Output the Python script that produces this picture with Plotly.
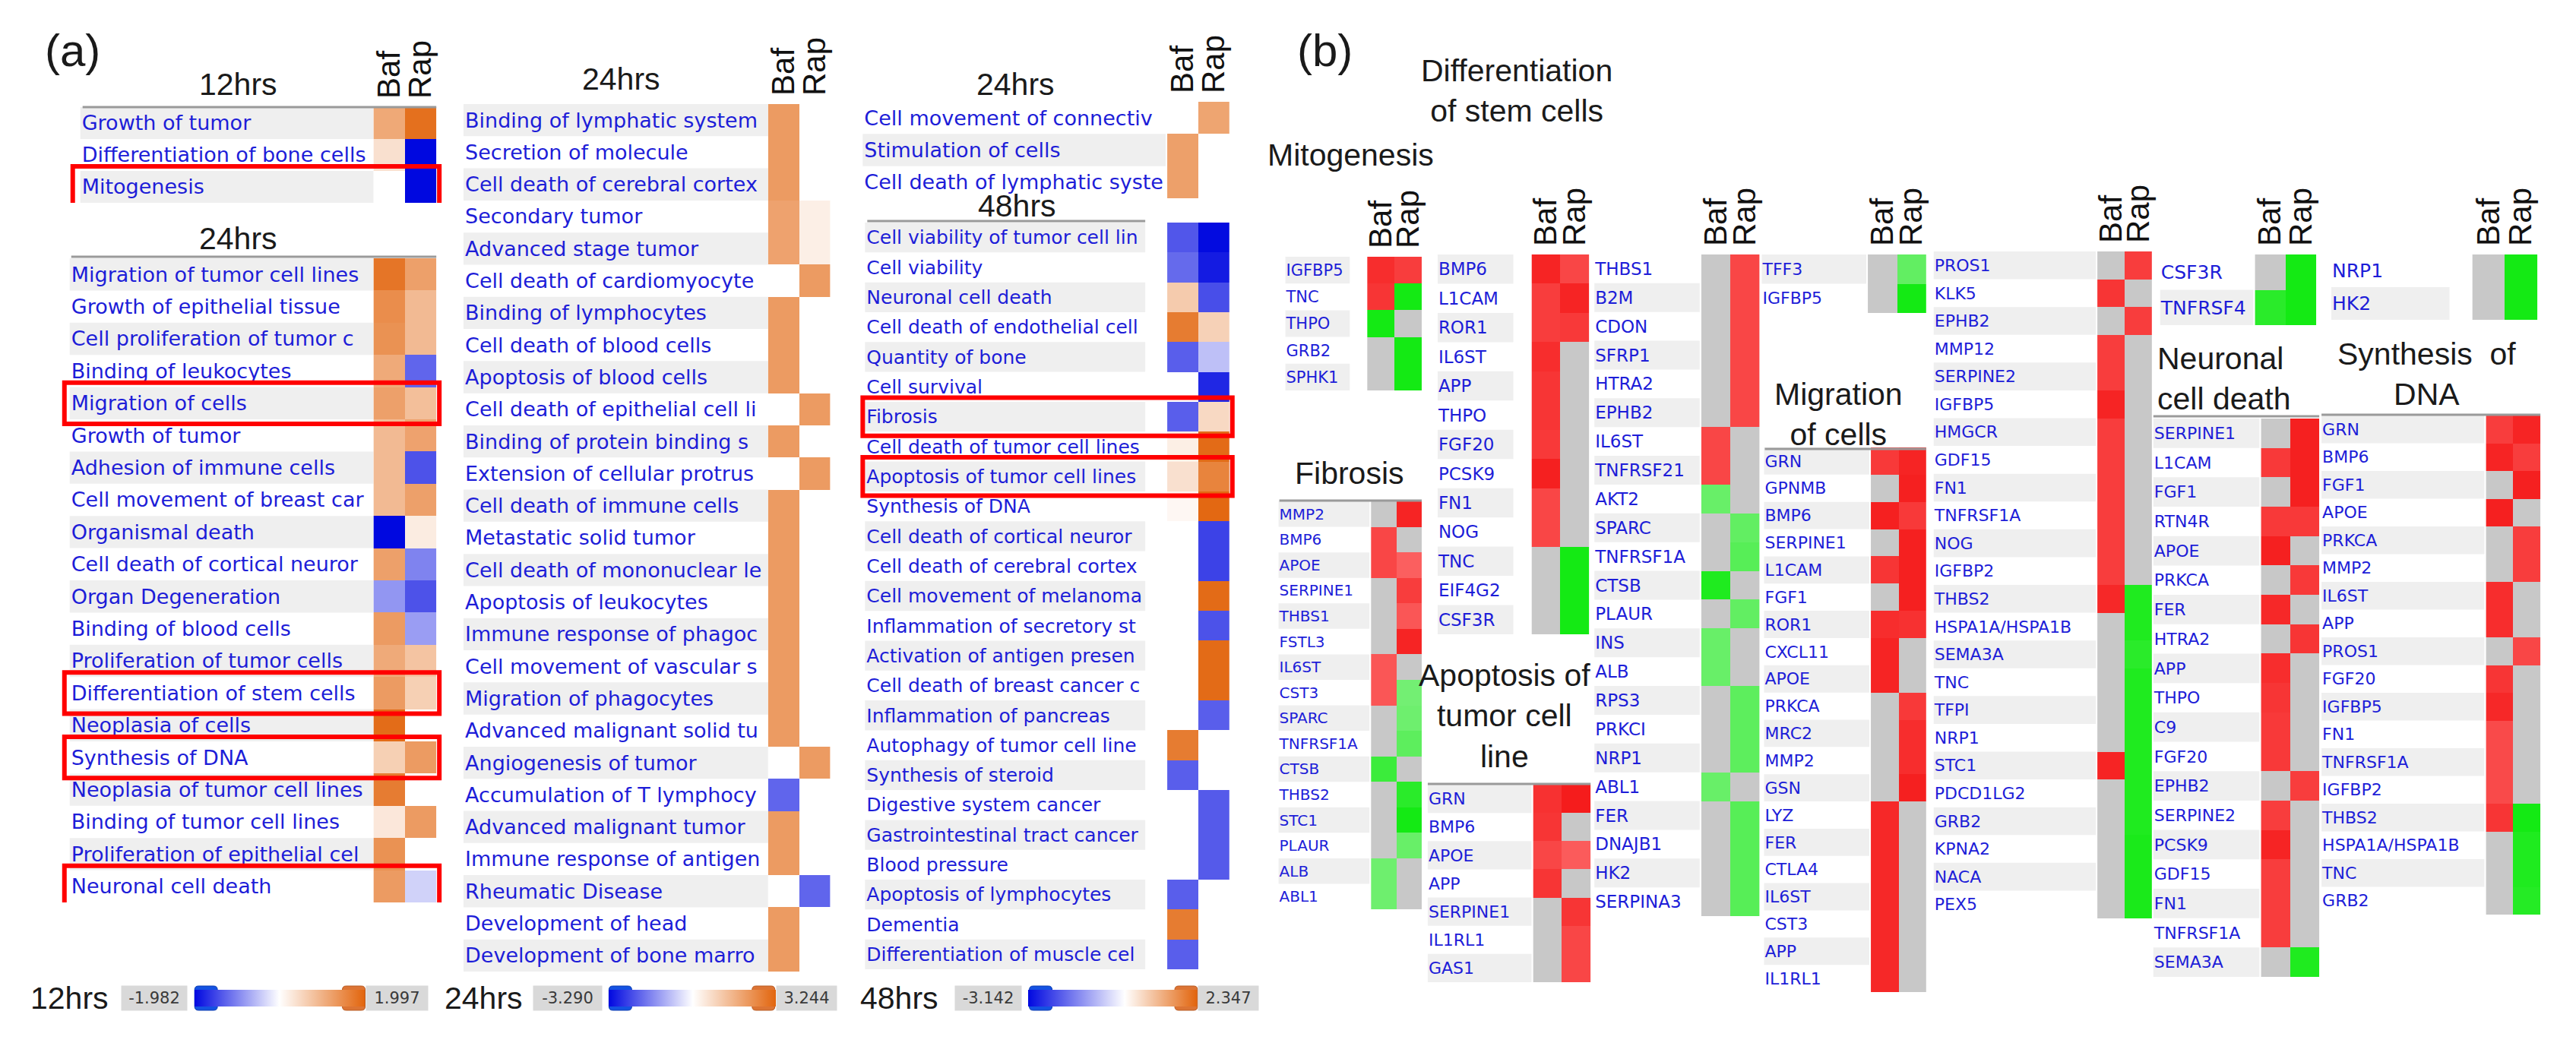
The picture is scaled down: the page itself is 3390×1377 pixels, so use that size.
import plotly.graph_objects as go

# ---------------- DATA ----------------
COLS = ["Baf", "Rap"]

# (a) IPA downstream functions, activation z-scores
RANGE_12 = [-1.982, 1.997]
RANGE_24 = [-3.290, 3.244]
RANGE_48 = [-3.142, 2.347]

T12_TERMS = ["Growth of tumor", "Differentiation of bone cells", "Mitogenesis"]
T12_BAF = [1.12, 0.40, None]
T12_RAP = [1.86, -1.98, -1.98]

T24A_TERMS = ["Migration of tumor cell lines", "Growth of epithelial tissue", "Cell proliferation of tumor c",
              "Binding of leukocytes", "Migration of cells", "Growth of tumor", "Adhesion of immune cells",
              "Cell movement of breast car", "Organismal death", "Cell death of cortical neuror",
              "Organ Degeneration", "Binding of blood cells", "Proliferation of tumor cells",
              "Differentiation of stem cells", "Neoplasia of cells", "Synthesis of DNA",
              "Neoplasia of tumor cell lines", "Binding of tumor cell lines", "Proliferation of epithelial cel",
              "Neuronal cell death"]
T24A_BAF = [2.9, 2.4, 2.3, 1.8, 2.0, 1.45, 1.45, 1.45, -3.29, 2.0, -1.4, 2.1, 1.8, 2.1, 3.1, 1.0, 2.75, 0.5, 2.3, 2.1]
T24A_RAP = [2.0, 1.45, 1.45, -2.05, 1.35, 1.95, -2.3, 2.0, 0.4, -1.65, -2.3, -1.3, 1.25, 1.0, None, 2.1, None, 2.1, None, -0.6]

T24B_TERMS = ["Binding of lymphatic system", "Secretion of molecule", "Cell death of cerebral cortex",
              "Secondary tumor", "Advanced stage tumor", "Cell death of cardiomyocyte", "Binding of lymphocytes",
              "Cell death of blood cells", "Apoptosis of blood cells", "Cell death of epithelial cell li",
              "Binding of protein binding s", "Extension of cellular protrus", "Cell death of immune cells",
              "Metastatic solid tumor", "Cell death of mononuclear le", "Apoptosis of leukocytes",
              "Immune response of phagoc", "Cell movement of vascular s", "Migration of phagocytes",
              "Advanced malignant solid tu", "Angiogenesis of tumor", "Accumulation of T lymphocy",
              "Advanced malignant tumor", "Immune response of antigen", "Rheumatic Disease",
              "Development of head", "Development of bone marro"]
T24B_BAF = [2.1, 2.1, 2.1, 1.95, 1.95, None, 2.1, 2.1, 2.1, None, 2.1, None, 2.1, 2.1, 2.1, 2.1, 2.1, 2.1, 2.1, 2.1,
            None, -2.05, 2.1, 2.1, None, 2.1, 2.1]
T24B_RAP = [None, None, None, 0.33, 0.33, 2.1, None, None, None, 2.1, None, 2.1, None, None, None, None, None, None,
            None, None, 2.1, None, None, None, -2.05, None, None]

T24C_TERMS = ["Cell movement of connectiv", "Stimulation of cells", "Cell death of lymphatic syste"]
T24C_BAF = [None, 2.0, 2.0]
T24C_RAP = [1.9, None, None]

T48_TERMS = ["Cell viability of tumor cell lin", "Cell viability", "Neuronal cell death",
             "Cell death of endothelial cell", "Quantity of bone", "Cell survival", "Fibrosis",
             "Cell death of tumor cell lines", "Apoptosis of tumor cell lines", "Synthesis of DNA",
             "Cell death of cortical neuror", "Cell death of cerebral cortex", "Cell movement of melanoma",
             "Inflammation of secretory st", "Activation of antigen presen", "Cell death of breast cancer c",
             "Inflammation of pancreas", "Autophagy of tumor cell line", "Synthesis of steroid",
             "Digestive system cancer", "Gastrointestinal tract cancer", "Blood pressure",
             "Apoptosis of lymphocytes", "Dementia", "Differentiation of muscle cel"]
T48_BAF = [-2.15, -1.9, 0.8, 2.0, -2.05, None, -2.05, 0.25, 0.47, 0.12, None, None, None, None, None, None, None,
           2.0, -2.05, None, None, None, -2.05, 2.0, -2.05]
T48_RAP = [-3.1, -2.9, -2.25, 0.7, -0.8, -2.75, 0.58, 2.25, 1.88, 2.3, -2.4, -2.4, 2.25, -2.2, 2.25, 2.25, -2.05,
           None, None, -2.1, -2.1, -2.1, None, None, None]

# (b) gene-level fold changes (0 = not changed)
MITO_GENES = ["IGFBP5", "TNC", "THPO", "GRB2", "SPHK1"]
MITO_BAF = [2.6, 2.4, -3.0, 0, 0]
MITO_RAP = [2.2, -3.0, 0, -3.0, -3.0]

FIB_GENES = ["MMP2", "BMP6", "APOE", "SERPINE1", "THBS1", "FSTL3", "IL6ST", "CST3", "SPARC", "TNFRSF1A",
             "CTSB", "THBS2", "STC1", "PLAUR", "ALB", "ABL1"]
FIB_BAF = [0, 2.0, 2.0, 0, 0, 0, 1.6, 1.6, 0, 0, -2.3, 0, 0, 0, -1.4, -1.4]
FIB_RAP = [2.8, 0, 1.4, 2.2, 1.6, 2.8, 0, -1.3, -1.4, -1.7, 0, -2.6, -3.0, -1.5, 0, 0]

DIFF1_GENES = ["BMP6", "L1CAM", "ROR1", "IL6ST", "APP", "THPO", "FGF20", "PCSK9", "FN1", "NOG", "TNC",
               "EIF4G2", "CSF3R"]
DIFF1_BAF = [2.8, 2.2, 2.2, 2.6, 2.4, 2.4, 2.3, 2.9, 2.0, 2.0, 0, 0, 0]
DIFF1_RAP = [2.0, 2.8, 2.3, 0, 0, 0, 0, 0, 0, 0, -3.0, -3.0, -3.0]

DIFF2_GENES = ["THBS1", "B2M", "CDON", "SFRP1", "HTRA2", "EPHB2", "IL6ST", "TNFRSF21", "AKT2", "SPARC",
               "TNFRSF1A", "CTSB", "PLAUR", "INS", "ALB", "RPS3", "PRKCI", "NRP1", "ABL1", "FER", "DNAJB1",
               "HK2", "SERPINA3"]
DIFF2_BAF = [0, 0, 0, 0, 0, 0, 2.0, 2.0, -1.5, 0, 0, -2.8, 0, -1.5, -1.5, 0, 0, 0, -1.5, 0, 0, 0, 0]
DIFF2_RAP = [2.0, 2.0, 2.0, 2.0, 2.0, 2.0, 0, 0, 0, -1.6, -1.8, 0, -1.6, 0, 0, -1.7, -1.7, -1.7, 0, -1.8,
             -1.8, -1.8, -1.8]

APOP_GENES = ["GRN", "BMP6", "APOE", "APP", "SERPINE1", "IL1RL1", "GAS1"]
APOP_BAF = [2.5, 2.4, 2.0, 2.4, 0, 0, 0]
APOP_RAP = [3.0, 0, 1.5, 0, 2.4, 2.0, 2.0]

TFF_GENES = ["TFF3", "IGFBP5"]
TFF_BAF = [0, 0]
TFF_RAP = [-1.6, -3.0]

MIG1_GENES = ["GRN", "GPNMB", "BMP6", "SERPINE1", "L1CAM", "FGF1", "ROR1", "CXCL11", "APOE", "PRKCA", "MRC2",
              "MMP2", "GSN", "LYZ", "FER", "CTLA4", "IL6ST", "CST3", "APP", "IL1RL1"]
MIG1_BAF = [2.3, 0, 2.9, 0, 2.4, 0, 2.6, 2.8, 2.8, 0, 0, 0, 0, 2.7, 2.7, 2.7, 2.7, 2.7, 2.7, 2.7]
MIG1_RAP = [2.8, 2.9, 2.3, 2.9, 2.9, 2.9, 2.5, 0, 0, 2.3, 2.6, 2.6, 2.9, 0, 0, 0, 0, 0, 0, 0]

MIG2_GENES = ["PROS1", "KLK5", "EPHB2", "MMP12", "SERPINE2", "IGFBP5", "HMGCR", "GDF15", "FN1", "TNFRSF1A",
              "NOG", "IGFBP2", "THBS2", "HSPA1A/HSPA1B", "SEMA3A", "TNC", "TFPI", "NRP1", "STC1", "PDCD1LG2",
              "GRB2", "KPNA2", "NACA", "PEX5"]
MIG2_BAF = [0, 2.4, 0, 2.2, 2.2, 2.8, 2.2, 2.2, 2.2, 2.2, 2.2, 2.2, 2.7, 0, 0, 0, 0, 0, 2.8, 0, 0, 0, 0, 0]
MIG2_RAP = [2.2, 0, 2.2, 0, 0, 0, 0, 0, 0, 0, 0, 0, -2.8, -2.8, -2.6, -2.8, -2.8, -2.8, -2.8, -2.8, -2.8,
            -2.9, -2.9, -2.9]

CSF_GENES = ["CSF3R", "TNFRSF4"]
CSF_BAF = [0, -2.6]
CSF_RAP = [-3.0, -3.0]

NEUR_GENES = ["SERPINE1", "L1CAM", "FGF1", "RTN4R", "APOE", "PRKCA", "FER", "HTRA2", "APP", "THPO", "C9",
              "FGF20", "EPHB2", "SERPINE2", "PCSK9", "GDF15", "FN1", "TNFRSF1A", "SEMA3A"]
NEUR_BAF = [0, 2.3, 0, 2.3, 2.9, 0, 2.7, 0, 2.6, 2.4, 2.3, 2.3, 0, 2.2, 2.8, 2.2, 2.2, 2.2, 0]
NEUR_RAP = [2.9, 2.9, 2.9, 2.3, 0, 2.3, 0, 2.4, 0, 0, 0, 0, 2.2, 0, 0, 0, 0, 0, -2.8]

NRP_GENES = ["NRP1", "HK2"]
NRP_BAF = [0, 0]
NRP_RAP = [-3.0, -3.0]

SYN_GENES = ["GRN", "BMP6", "FGF1", "APOE", "PRKCA", "MMP2", "IL6ST", "APP", "PROS1", "FGF20", "IGFBP5", "FN1",
             "TNFRSF1A", "IGFBP2", "THBS2", "HSPA1A/HSPA1B", "TNC", "GRB2"]
SYN_BAF = [2.2, 2.8, 0, 2.9, 0, 0, 2.6, 2.6, 0, 2.4, 2.7, 1.9, 1.9, 1.9, 2.4, 0, 0, 0]
SYN_RAP = [2.8, 2.2, 2.9, 0, 2.2, 2.2, 0, 0, 2.0, 0, 0, 0, 0, 0, -3.0, -2.8, -2.8, -2.7]

HIGHLIGHT_12 = ["Mitogenesis"]
HIGHLIGHT_24 = ["Migration of cells", "Differentiation of stem cells", "Synthesis of DNA", "Neuronal cell death"]
HIGHLIGHT_48 = ["Fibrosis", "Apoptosis of tumor cell lines"]

# ---------------- LAYOUT / STYLE ----------------
W, H = 3390, 1377
BLUE_TXT = "#1d1dd8"
STRIPE = "#efefef"
TITLE_FONT = "Liberation Sans, Arial, sans-serif"
LABEL_FONT = "DejaVu Sans, Verdana, sans-serif"


def px(x):
    return x / W


def py(y):
    return 1 - y / H


def a_scale(rng):
    lo, hi = rng
    mid = -lo / (hi - lo)
    return [[0, "#0008e0"], [mid, "#ffffff"], [1, "#e2650d"]]


B_SCALE = [[0, "#14ea14"], [0.44, "#a8f2a8"], [0.44, "#c8c8c8"], [0.56, "#c8c8c8"],
           [0.56, "#ff8a8a"], [1, "#f51c1c"]]

BLOCKS = [
    # panel (a)
    dict(terms=T12_TERMS, baf=T12_BAF, rap=T12_RAP, kind="a", rng=RANGE_12, cells=(479, 562), rows=(133, 259),
         lx=96, font=27, stripe=(92, 479), parity=0, header=True, cb=(243, 468),
         boxes=HIGHLIGHT_12, boxx=(82, 566)),
    dict(terms=T24A_TERMS, baf=T24A_BAF, rap=T24A_RAP, kind="a", rng=RANGE_24, cells=(479, 562), rows=(332, 1180),
         lx=82, font=27, stripe=(78, 479), parity=0, header=False, boxes=HIGHLIGHT_24, boxx=(71, 566)),
    dict(terms=T24B_TERMS, baf=T24B_BAF, rap=T24B_RAP, kind="a", rng=RANGE_24, cells=(1000, 1082), rows=(129, 1271),
         lx=602, font=27, stripe=(598, 1000), parity=0, header=True, cb=(790, 1011)),
    dict(terms=T24C_TERMS, baf=T24C_BAF, rap=T24C_RAP, kind="a", rng=RANGE_24, cells=(1527, 1609), rows=(126, 253),
         lx=1129, font=27, stripe=(1125, 1525), parity=1, header=True),
    dict(terms=T48_TERMS, baf=T48_BAF, rap=T48_RAP, kind="a", rng=RANGE_48, cells=(1527, 1609), rows=(285, 1268),
         lx=1132, font=25, stripe=(1128, 1498), parity=0, header=False, cb=(1343, 1566),
         boxes=HIGHLIGHT_48, boxx=(1125, 1613)),
    # panel (b)
    dict(terms=MITO_GENES, baf=MITO_BAF, rap=MITO_RAP, kind="b", cells=(1791, 1863), rows=(330, 506),
         lx=1686, font=21, stripe=(1683, 1768), parity=0, header=True),
    dict(terms=DIFF1_GENES, baf=DIFF1_BAF, rap=DIFF1_RAP, kind="b", cells=(2008, 2084), rows=(327, 827),
         lx=1887, font=23, stripe=(1884, 1984), parity=0, header=True),
    dict(terms=DIFF2_GENES, baf=DIFF2_BAF, rap=DIFF2_RAP, kind="b", cells=(2232, 2309), rows=(327, 1198),
         lx=2094, font=23, stripe=(2091, 2230), parity=1, header=True),
    dict(terms=FIB_GENES, baf=FIB_BAF, rap=FIB_RAP, kind="b", cells=(1796, 1863), rows=(652, 1189),
         lx=1677, font=20, stripe=(1674, 1794), parity=0, header=False),
    dict(terms=APOP_GENES, baf=APOP_BAF, rap=APOP_RAP, kind="b", cells=(2010, 2086), rows=(1025, 1285),
         lx=1874, font=22, stripe=(1871, 2008), parity=0, header=False),
    dict(terms=TFF_GENES, baf=TFF_BAF, rap=TFF_RAP, kind="b", cells=(2452, 2529), rows=(327, 404),
         lx=2315, font=22, stripe=(2312, 2450), parity=0, header=True),
    dict(terms=MIG1_GENES, baf=MIG1_BAF, rap=MIG1_RAP, kind="b", cells=(2456, 2529), rows=(581, 1298),
         lx=2318, font=22, stripe=(2315, 2454), parity=0, header=False),
    dict(terms=MIG2_GENES, baf=MIG2_BAF, rap=MIG2_RAP, kind="b", cells=(2755, 2827), rows=(323, 1201),
         lx=2542, font=22, stripe=(2539, 2753), parity=0, header=True),
    dict(terms=CSF_GENES, baf=CSF_BAF, rap=CSF_RAP, kind="b", cells=(2963, 3044), rows=(327, 420),
         lx=2841, font=25, stripe=(2838, 2961), parity=1, header=True),
    dict(terms=NEUR_GENES, baf=NEUR_BAF, rap=NEUR_RAP, kind="b", cells=(2971, 3048), rows=(543, 1278),
         lx=2832, font=22, stripe=(2829, 2969), parity=0, header=False),
    dict(terms=NRP_GENES, baf=NRP_BAF, rap=NRP_RAP, kind="b", cells=(3250, 3336), rows=(327, 413),
         lx=3067, font=25, stripe=(3064, 3220), parity=1, header=True),
    dict(terms=SYN_GENES, baf=SYN_BAF, rap=SYN_RAP, kind="b", cells=(3268, 3340), rows=(539, 1196),
         lx=3054, font=22, stripe=(3051, 3266), parity=0, header=False),
]

fig = go.Figure()
shapes = []
annotations = []
layout_axes = {}

for i, b in enumerate(BLOCKS, start=1):
    sfx = "" if i == 1 else str(i)
    n = len(b["terms"])
    z = [[bv, rv] for bv, rv in zip(b["baf"], b["rap"])]
    if b["kind"] == "a":
        cs, zmin, zmax = a_scale(b["rng"]), b["rng"][0], b["rng"][1]
    else:
        cs, zmin, zmax = B_SCALE, -3, 3
    tr = dict(z=z, x=[0, 1], y=list(range(n)), colorscale=cs, zmin=zmin, zmax=zmax,
              xaxis="x" + sfx, yaxis="y" + sfx, hoverinfo="skip", showscale=False)
    if "cb" in b:
        l, r = b["cb"]
        tr["showscale"] = True
        tr["colorbar"] = dict(orientation="h", x=px(l), xanchor="left", len=(r - l) / W, lenmode="fraction",
                              y=py(1306), yanchor="middle", thickness=22, thicknessmode="pixels",
                              outlinewidth=0, showticklabels=False, ticks="", xpad=0, ypad=0)
    fig.add_trace(go.Heatmap(**tr))

    top, bot = b["rows"]
    cl, cr = b["cells"]
    layout_axes["xaxis" + sfx] = dict(
        domain=[px(cl), px(cr)], range=[-0.5, 1.5], anchor="y" + sfx, side="top",
        tickvals=[0, 1], ticktext=COLS, tickangle=-90, showticklabels=b["header"], ticks="",
        ticklabelstandoff=10, tickfont=dict(family=TITLE_FONT, size=42, color="#111"),
        showgrid=False, zeroline=False, showline=False, fixedrange=True)
    layout_axes["yaxis" + sfx] = dict(
        domain=[py(bot), py(top)], range=[n - 0.5, -0.5], anchor="free", position=px(b["lx"] - 3),
        side="right", tickvals=list(range(n)), ticktext=b["terms"], ticks="",
        tickfont=dict(family=LABEL_FONT, size=b["font"], color=BLUE_TXT),
        showgrid=False, zeroline=False, showline=False, fixedrange=True)

    sl, sr = b["stripe"]
    for j in range(n):
        if j % 2 == b["parity"]:
            shapes.append(dict(type="rect", xref="paper", yref="y" + sfx, x0=px(sl), x1=px(sr),
                               y0=j - 0.5, y1=j + 0.5, fillcolor=STRIPE, line=dict(width=0), layer="below"))
    for term in b.get("boxes", []):
        j = b["terms"].index(term)
        bl, br = b["boxx"]
        shapes.append(dict(type="rect", xref="paper", yref="y" + sfx, x0=px(bl), x1=px(br),
                           y0=j - 0.64, y1=j + 0.64, line=dict(color="#ff0000", width=6),
                           fillcolor="rgba(0,0,0,0)", layer="above"))

# gray header rules
for (x0, x1, y) in [(95, 562, 133), (80, 562, 330), (1131, 1498, 283), (1675, 1863, 651),
                    (2316, 2529, 583), (2829, 3048, 540), (3051, 3340, 538), (1871, 2086, 1024)]:
    shapes.append(dict(type="line", xref="paper", yref="paper", x0=px(x0), x1=px(x1), y0=py(y), y1=py(y),
                       line=dict(color="#9a9a9a", width=3)))

# colour-bar end handles
HANDLE = "M -15,-11 Q -15,-16 -10,-16 L 10,-16 Q 15,-16 15,-11 L 15,11 Q 15,16 10,16 L -10,16 Q -15,16 -15,11 Z"
for hx, col, edge in [(258, "#1452e2", "#0b3cb0"), (453, "#dc7434", "#b85a22"),
                      (805, "#1452e2", "#0b3cb0"), (994, "#dc7434", "#b85a22"),
                      (1360, "#1452e2", "#0b3cb0"), (1552, "#dc7434", "#b85a22")]:
    shapes.append(dict(type="path", xref="paper", yref="paper", xsizemode="pixel", ysizemode="pixel",
                       xanchor=px(hx), yanchor=py(1306), path=HANDLE, fillcolor=col,
                       line=dict(color=edge, width=1)))


def title(text, x, y, size=41, xanchor="center", align="center"):
    annotations.append(dict(text=text, x=px(x), y=py(y), xref="paper", yref="paper", showarrow=False,
                            xanchor=xanchor, yanchor="middle", align=align,
                            font=dict(family=TITLE_FONT, size=size, color="#1a1a1a")))


title("(a)", 82, 58, size=60)
title("(b)", 1735, 58, size=60)
title("12hrs", 300, 103)
title("24hrs", 300, 306)
title("24hrs", 806, 96)
title("24hrs", 1327, 103)
title("48hrs", 1329, 263)
title("12hrs", 78, 1306)
title("24hrs", 625, 1306)
title("48hrs", 1173, 1306)
title("Differentiation<br>of stem cells", 1988, 112)
title("Mitogenesis", 1769, 196)
title("Fibrosis", 1768, 615)
title("Apoptosis of<br>tumor cell<br>line", 1972, 934)
title("Migration<br>of cells", 2413, 537)
title("Neuronal<br>cell death", 2832, 490, xanchor="left", align="left")
title("Synthesis  of<br>DNA", 3190, 485)

for txt, cx, w in [("-1.982", 190, 84), ("1.997", 510, 79), ("-3.290", 735, 88), ("3.244", 1051, 77),
                   ("-3.142", 1291, 85), ("2.347", 1608, 77)]:
    annotations.append(dict(text=txt, x=px(cx), y=py(1306), xref="paper", yref="paper", showarrow=False,
                            xanchor="center", yanchor="middle", width=w, height=30, bgcolor="#d9d9d9",
                            font=dict(family=LABEL_FONT, size=21, color="#3a3a3a")))

fig.update_layout(
    width=W, height=H, margin=dict(l=0, r=0, t=0, b=0),
    paper_bgcolor="white", plot_bgcolor="white", showlegend=False,
    shapes=shapes, annotations=annotations, **layout_axes)

fig.write_html("out.html")
